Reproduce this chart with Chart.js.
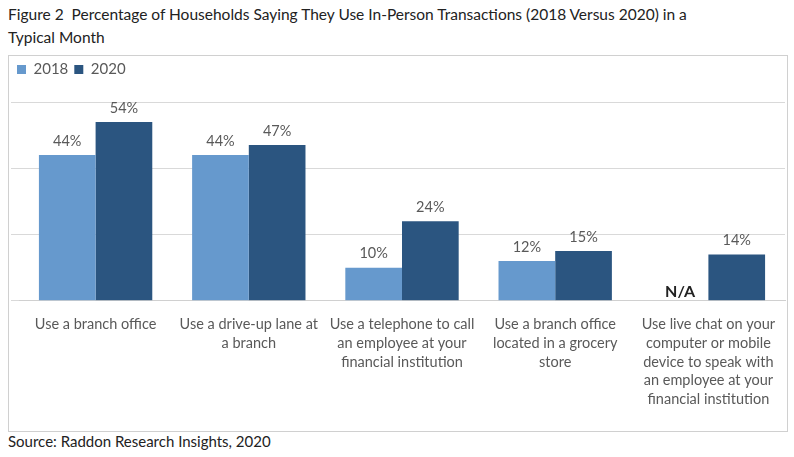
<!DOCTYPE html>
<html><head><meta charset="utf-8">
<script src="https://cdn.jsdelivr.net/npm/chart.js@4/dist/chart.umd.min.js"></script>
<style>
body{margin:0;width:794px;height:457px;background:#fff;font-family:Lato,"Open Sans",sans-serif;position:relative;overflow:hidden}
#title{position:absolute;left:8px;top:3px;width:720px;font-size:15.5px;line-height:23px;color:#222}
#box{position:absolute;left:8px;top:55px;width:780px;height:377px;border:1px solid #d0d0d0;box-sizing:border-box}
#src{position:absolute;left:8px;top:432px;font-size:15px;color:#222}
</style></head><body>
<div id="title">Figure 2&nbsp; Percentage of Households Saying They Use In-Person Transactions (2018 Versus 2020) in a Typical Month</div>
<div id="box"><canvas id="c"></canvas></div>
<div id="src">Source: Raddon Research Insights, 2020</div>
<script>
const categories = [
  ["Use a branch office"],
  ["Use a drive-up lane at", "a branch"],
  ["Use a telephone to call", "an employee at your", "financial institution"],
  ["Use a branch office", "located in a grocery", "store"],
  ["Use live chat on your", "computer or mobile", "device to speak with", "an employee at your", "financial institution"]
];
const values2018 = [44, 44, 10, 12, null];
const values2020 = [54, 47, 24, 15, 14];

const labelPlugin = {
  id: "labels",
  beforeInit(chart) {
    const orig = chart.legend.fit;
    chart.legend.fit = function () { orig.call(this); this.height = 46; };
  },
  afterDatasetsDraw(chart) {
    const ctx = chart.ctx;
    ctx.save();
    ctx.textAlign = "center";
    chart.data.datasets.forEach((ds, i) => {
      chart.getDatasetMeta(i).data.forEach((bar, j) => {
        const v = ds.data[j];
        if (v == null) {
          ctx.font = "bold 16px Lato";
          ctx.fillStyle = "#222";
          ctx.fillText("N/A", bar.x, chart.scales.y.getPixelForValue(0) - 9);
        } else {
          ctx.font = "14.5px Lato";
          ctx.fillStyle = "#595959";
          ctx.fillText(v + "%", bar.x, bar.y - 14);
        }
      });
    });
    ctx.restore();
  }
};

new Chart(document.getElementById("c"), {
  type: "bar",
  data: {
    labels: categories,
    datasets: [
      { label: "2018", data: values2018, backgroundColor: "#6699CD" },
      { label: "2020", data: values2020, backgroundColor: "#2B5580" }
    ]
  },
  options: {
    responsive: true,
    maintainAspectRatio: false,
    animation: false,
    layout: { padding: { left: 2, right: 2, top: 0, bottom: 16 } },
    datasets: { bar: { categoryPercentage: 0.74, barPercentage: 1 } },
    plugins: {
      legend: {
        align: "start",
        labels: { boxWidth: 9, boxHeight: 9, color: "#595959", font: { family: "Lato", size: 15 }, padding: 6 }
      },
      tooltip: { enabled: false }
    },
    scales: {
      x: {
        grid: { display: false },
        border: { color: "#d0d0d0" },
        ticks: { color: "#595959", font: { family: "Lato", size: 14.5, lineHeight: 1.3 }, maxRotation: 0, autoSkip: false, padding: 6 }
      },
      y: {
        min: 0, max: 60,
        ticks: { stepSize: 20, display: false },
        grid: { color: "#d9d9d9" },
        border: { display: false }
      }
    }
  },
  plugins: [labelPlugin]
});
</script>
</body></html>
